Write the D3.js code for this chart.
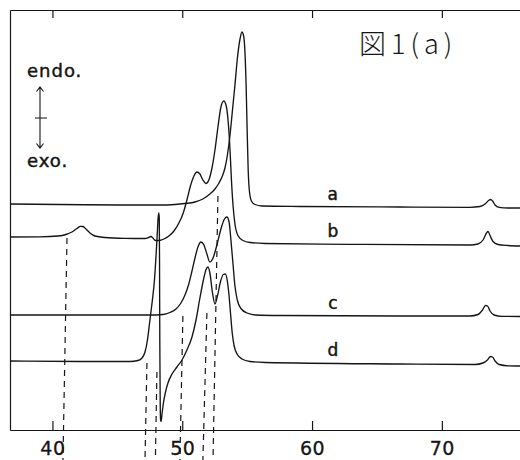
<!DOCTYPE html>
<html><head><meta charset="utf-8">
<script src="https://cdn.jsdelivr.net/npm/d3@7/dist/d3.min.js"></script>
<style>body{margin:0;background:#fff}svg{display:block}</style>
</head><body>
<script>
// ---- data (temperature °C, heat flow in arbitrary units) ----
const tempTicks = [40, 50, 60, 70];
const seriesNames = ["a", "b", "c", "d"];
const curveA = [[36.73,22.6],[40.58,22.55],[45.2,22.5],[48.28,22.5],[49.44,22.55],[50.21,22.65],[50.98,22.8],[51.59,23.1],[52.13,23.6],[52.52,24.1],[52.83,24.7],[53.06,25.3],[53.29,26.2],[53.48,27.5],[53.68,29.5],[53.87,32.0],[54.06,34.5],[54.25,37.2],[54.45,39.1],[54.6,39.8],[54.73,39.4],[54.83,37.8],[54.92,34.5],[55.0,30.0],[55.08,26.0],[55.18,23.8],[55.33,22.9],[55.6,22.55],[56.14,22.4],[59.07,22.35],[66.77,22.3],[72.17,22.27],[72.94,22.35],[73.33,22.6],[73.6,22.95],[73.75,23.05],[73.91,22.9],[74.1,22.5],[74.41,22.27],[75.1,22.2],[76.02,22.2]];
const curveB = [[36.73,19.3],[39.04,19.32],[40.42,19.4],[41.04,19.55],[41.5,19.8],[41.89,20.15],[42.16,20.37],[42.35,20.35],[42.58,20.1],[42.89,19.7],[43.27,19.4],[44.04,19.25],[45.58,19.17],[47.13,19.15],[47.4,19.25],[47.59,19.35],[47.74,19.2],[47.93,18.95],[48.2,18.95],[48.59,19.1],[48.97,19.4],[49.36,19.9],[49.74,20.7],[50.05,21.6],[50.36,23.0],[50.63,24.4],[50.9,25.4],[51.13,25.8],[51.36,25.6],[51.59,25.0],[51.82,24.65],[52.05,25.0],[52.29,26.2],[52.52,28.0],[52.75,30.3],[52.98,32.3],[53.2,32.9],[53.39,32.4],[53.54,30.8],[53.68,28.0],[53.79,25.0],[53.91,22.5],[54.06,20.6],[54.29,19.45],[54.68,18.95],[55.22,18.75],[56.37,18.65],[62.92,18.57],[72.17,18.5],[72.78,18.6],[73.17,19.0],[73.44,19.7],[73.56,19.85],[73.71,19.45],[73.94,18.85],[74.33,18.55],[75.1,18.45],[76.02,18.4]];
const curveC = [[36.73,11.5],[43.66,11.5],[47.51,11.5],[48.51,11.55],[49.05,11.75],[49.52,12.1],[49.9,12.7],[50.21,13.5],[50.48,14.5],[50.75,15.9],[50.98,17.2],[51.21,18.3],[51.44,18.8],[51.67,18.5],[51.9,17.6],[52.13,16.8],[52.37,17.2],[52.67,18.5],[52.98,20.1],[53.25,21.1],[53.44,21.3],[53.61,20.8],[53.75,19.0],[53.91,16.6],[54.06,14.4],[54.24,13.0],[54.52,12.15],[54.99,11.7],[55.68,11.5],[57.53,11.45],[66.77,11.4],[72.17,11.4],[72.78,11.55],[73.13,12.0],[73.36,12.45],[73.52,12.4],[73.71,11.9],[74.02,11.5],[74.64,11.37],[76.02,11.35]];
const curveD = [[36.73,6.9],[42.12,6.85],[45.97,6.85],[46.59,6.95],[46.9,7.2],[47.13,7.8],[47.32,9.0],[47.51,11.0],[47.7,13.0],[47.86,15.0],[47.97,17.2],[48.07,19.5],[48.14,21.2],[48.19,21.7],[48.23,21.2],[48.25,17.0],[48.27,9.0],[48.3,3.0],[48.33,1.0],[48.37,0.85],[48.44,1.6],[48.55,2.7],[48.71,3.8],[48.9,4.7],[49.21,5.6],[49.59,6.3],[49.98,7.0],[50.36,8.0],[50.75,9.3],[51.06,11.0],[51.36,13.2],[51.63,15.0],[51.82,16.0],[51.98,16.3],[52.13,15.7],[52.32,13.8],[52.52,12.6],[52.71,13.4],[52.94,14.8],[53.16,15.55],[53.33,15.6],[53.46,15.0],[53.6,13.5],[53.73,11.5],[53.85,9.7],[54.0,8.4],[54.25,7.55],[54.6,7.1],[55.22,6.85],[56.37,6.75],[66.77,6.6],[72.55,6.55],[73.17,6.7],[73.51,7.0],[73.75,7.35],[73.9,7.3],[74.1,6.9],[74.41,6.55],[75.1,6.42],[76.02,6.4]];
const guideTempTop = [41.12, 47.28, 48.05, 50.05, 51.90, 52.75];
const guideTempBottom = [40.81, 47.13, 47.93, 49.82, 51.59, 52.37];
const guideValueTop = [19.2, 6.7, 5.8, 11.4, 11.7, 23.4];
const guideValueBottom = -3;
const labelTemp = 61.6;
const titleText = "図1(a)";
const endoText = "endo.";
const exoText = "exo.";

// ---- drawing ----
const W = 520, H = 460;
const curves = [curveA, curveB, curveC, curveD];
const x = d3.scaleLinear().domain([36.73, 76.02]).range([10, 520]);
const y = d3.scaleLinear().domain([0, 42]).range([430, 10]);
const ink = "#151515";

const svg = d3.select("body").append("svg").attr("width", W).attr("height", H);

// frame / axes
const gB = svg.append("g").attr("transform", `translate(0,${y(0)})`)
  .call(d3.axisBottom(x).tickValues(tempTicks).tickSize(-9).tickSizeOuter(0).tickPadding(12).tickFormat(d3.format("d")));
gB.selectAll("text").attr("font-family", "DejaVu Sans").attr("font-size", 19).attr("fill", ink)
  .attr("letter-spacing", 0.5).attr("stroke", ink).attr("stroke-width", 0.3);
const gT = svg.append("g").attr("transform", `translate(0,${y(42)})`)
  .call(d3.axisTop(x).tickValues(tempTicks).tickSize(-8).tickSizeOuter(0).tickFormat(() => ""));
const gL = svg.append("g").attr("transform", `translate(${x(36.73)},0)`)
  .call(d3.axisLeft(y).tickValues([]).tickSizeOuter(0));
svg.selectAll(".domain, .tick line").attr("stroke", ink).attr("stroke-width", 1.2);

// dashed guide lines
svg.append("g").selectAll("line").data(guideTempTop).join("line")
  .attr("x1", (d) => x(d)).attr("y1", (d, i) => y(guideValueTop[i]))
  .attr("x2", (d, i) => x(guideTempBottom[i])).attr("y2", y(guideValueBottom))
  .attr("stroke", ink).attr("stroke-width", 1.2).attr("stroke-dasharray", "6,5");

// curves
const line = d3.line().x(d => x(d[0])).y(d => y(d[1])).curve(d3.curveMonotoneX);
svg.append("g").selectAll("path").data(curves).join("path")
  .attr("d", line).attr("fill", "none").attr("stroke", ink).attr("stroke-width", 1.35)
  .attr("stroke-linejoin", "round");

// curve labels placed just above each curve at labelTemp
const bis = d3.bisector(d => d[0]).left;
function valueAt(c, t) {
  const i = bis(c, t); const p0 = c[i - 1], p1 = c[i];
  return p0[1] + (p1[1] - p0[1]) * (t - p0[0]) / (p1[0] - p0[0]);
}
svg.append("g").selectAll("text").data(seriesNames).join("text")
  .attr("x", x(labelTemp)).attr("y", (d, i) => y(valueAt(curves[i], labelTemp)) - 7)
  .attr("text-anchor", "middle").attr("font-family", "DejaVu Sans").attr("font-size", 17)
  .attr("fill", ink).attr("stroke", ink).attr("stroke-width", 0.45).text(d => d);

// endo / exo annotation
svg.append("text").attr("x", 27).attr("y", 77).attr("font-family", "DejaVu Sans")
  .attr("font-size", 18).attr("letter-spacing", 1).attr("fill", ink)
  .attr("stroke", ink).attr("stroke-width", 0.45).text(endoText);
svg.append("text").attr("x", 27).attr("y", 167).attr("font-family", "DejaVu Sans")
  .attr("font-size", 18).attr("letter-spacing", 1).attr("fill", ink)
  .attr("stroke", ink).attr("stroke-width", 0.45).text(exoText);
const ar = svg.append("g").attr("stroke", ink).attr("stroke-width", 1.1).attr("fill", "none");
ar.append("path").attr("d", "M40,87V148 M36.5,91.5L40,87L43.5,91.5 M36.5,143.5L40,148L43.5,143.5 M35,118H47");

// title
svg.append("text").attr("x", 359).attr("y", 54).attr("font-family", "Noto Sans CJK JP")
  .attr("font-weight", 300).attr("font-size", 27).attr("letter-spacing", 5).attr("fill", ink).text(titleText);
</script>
</body></html>
